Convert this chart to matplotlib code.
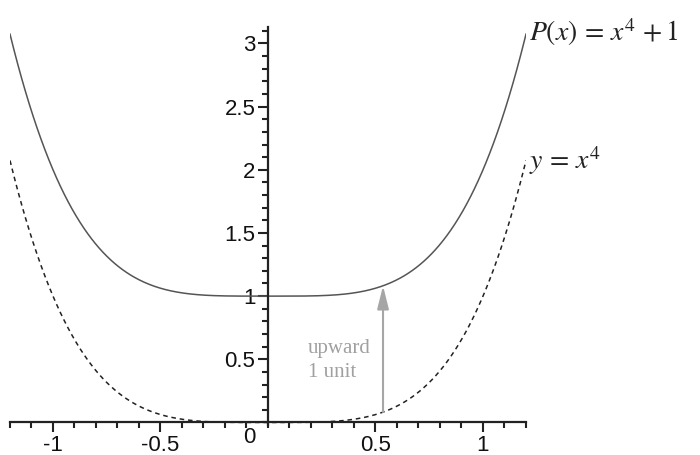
import numpy as np
import matplotlib.pyplot as plt
from matplotlib.ticker import MultipleLocator, FixedLocator

# curve samples
x = np.linspace(-1.2, 1.2, 400)
y_base = x ** 4
y_shift = x ** 4 + 1

xticks = [-1, -0.5, 0.5, 1]
xtick_labels = ['-1', '-0.5', '0.5', '1']
yticks = [0.5, 1, 1.5, 2, 2.5, 3]
ytick_labels = ['0.5', '1', '1.5', '2', '2.5', '3']

arrow_x = 0.535

plt.rcParams['mathtext.fontset'] = 'stix'

W, H = 700, 455
fig = plt.figure(figsize=(W / 100, H / 100), dpi=100)
ax = fig.add_axes([10 / W, (H - 425) / H, 516 / W, (425 - 27) / H])

ax.plot(x, y_shift, '-', color='#555555', lw=1.1)
ax.plot(x, y_base, '--', color='#222222', lw=1.1, dashes=(3, 2.5))

ax.set_xlim(-1.2, 1.2)
ax.set_ylim(-0.02, 3.13)

for s in ['top', 'right']:
    ax.spines[s].set_visible(False)
ax.spines['left'].set_position(('data', 0))
ax.spines['bottom'].set_position(('data', 0))
for s in ['left', 'bottom']:
    ax.spines[s].set_color('#222222')
    ax.spines[s].set_linewidth(1.6)

ax.xaxis.set_major_locator(FixedLocator(xticks))
ax.set_xticklabels(xtick_labels)
ax.xaxis.set_minor_locator(MultipleLocator(0.1))
ax.yaxis.set_major_locator(FixedLocator(yticks))
ax.set_yticklabels(ytick_labels)
ax.yaxis.set_minor_locator(MultipleLocator(0.1))

ax.tick_params(which='major', direction='out', length=7, width=1.5,
               color='#222222', labelsize=16, labelcolor='#111111', pad=2)
ax.tick_params(which='minor', direction='out', length=4, width=1.5,
               color='#222222')
for lab in ax.get_xticklabels() + ax.get_yticklabels():
    lab.set_family('Liberation Sans')

ax.text(-0.085, -0.035, '0', ha='center', va='top', fontsize=16,
        family='Liberation Sans', color='#111111')

ax.annotate('', xy=(arrow_x, arrow_x ** 4 + 1), xytext=(arrow_x, arrow_x ** 4),
            arrowprops=dict(arrowstyle='-|>,head_width=0.35,head_length=1.4',
                            color='#a6a6a6', lw=1.5, shrinkA=0, shrinkB=0))
ax.text(0.186, 0.49, 'upward\n1 unit', ha='left', va='center', fontsize=15,
        family='Liberation Serif', color='#a0a0a0', linespacing=1.35)

ax.text(1.215, 3.09, r'$P(x)\,=\,x^4\,+1$', ha='left', va='center',
        fontsize=20, color='#222222')
ax.text(1.215, 2.07, r'$y\,=\,x^4$', ha='left', va='center',
        fontsize=20, color='#222222')

fig.savefig('out.png', dpi=100)
